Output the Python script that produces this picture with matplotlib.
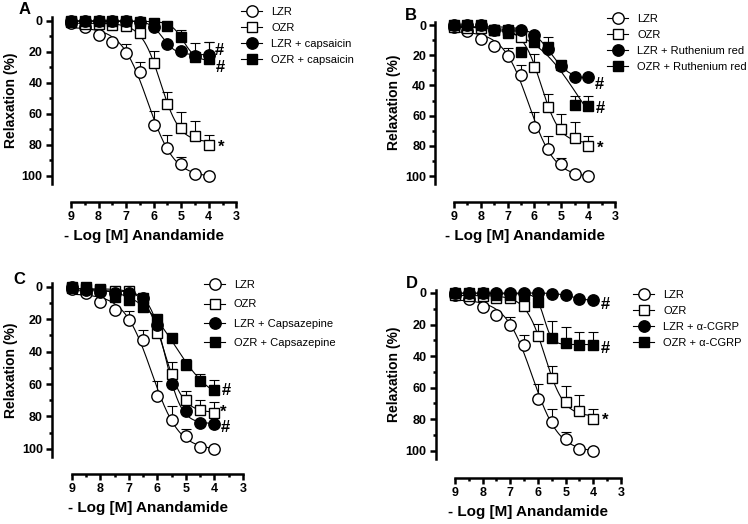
import numpy as np
import matplotlib
matplotlib.use("Agg")
import matplotlib.pyplot as plt

plt.rcParams['font.family'] = ['Liberation Sans', 'DejaVu Sans']

# -log [M] anandamide
logm = [9, 8.5, 8, 7.5, 7, 6.5, 6, 5.5, 5, 4.5, 4]

# controls (same in every panel)
lzr = [1.3, 4, 9, 14, 20.6, 33, 67.5, 82, 92.3, 98.7, 100]
lzr_err = [0, 0, 0, 0, 5.5, 6.3, 9.6, 8.3, 4.3, 0, 0]
ozr = [1, 2, 2, 3, 3.5, 8, 27.5, 54, 69, 74.6, 80]
ozr_err = [0, 0, 0, 0, 0, 0, 8.1, 8, 10.2, 10.2, 6.5]
ozr_c = [0.6, 1, 2, 2.7, 2.7, 6.8, 28.2, 54, 70, 76.3, 77.7]
ozr_c_err = [0, 0, 0, 0, 0, 0, 0, 7.6, 5.5, 6.6, 6.6]

# A: capsaicin
lzr_cap = [0, 0, 0, 0, 0, 1, 3.9, 15.3, 19.5, 22.5, 22]
lzr_cap_err = [0, 0, 0, 0, 0, 0, 0, 0, 0, 0, 8.5]
ozr_cap = [0, 0, 0, 0, 0, 1, 1.5, 3.2, 10.3, 23.3, 25]
ozr_cap_err = [0, 0, 0, 0, 0, 0, 0, 0, 4.3, 8.7, 11]

# B: ruthenium red
lzr_rr = [0, 0, 0, 3, 3, 3, 6.6, 16, 27, 34.5, 34.5]
lzr_rr_err = [0, 0, 0, 0, 0, 0, 0, 0, 0, 0, 0]
ozr_rr = [0, 0, 0, 3, 5.5, 18, 11.3, 14.5, 26.5, 53, 53.6]
ozr_rr_err = [0, 0, 0, 0, 0, 0, 0, 6.5, 0, 6.2, 6.8]

# C: capsazepine
lzr_cpz = [0, 2, 3, 4, 4, 7, 23.7, 60.2, 76.7, 84, 85]
lzr_cpz_err = [0, 0, 0, 0, 0, 0, 0, 0, 0, 0, 0]
ozr_cpz = [0, 0, 1.4, 6, 8, 12.4, 19.6, 31.5, 48, 58.4, 63.5]
ozr_cpz_err = [0, 0, 0, 0, 0, 0, 0, 0, 3.7, 4.8, 5.8]

# D: alpha-CGRP
lzr_cgrp = [0, 0, 0, 0, 0, 0, 0, 0.4, 1.5, 3.6, 4.6]
lzr_cgrp_err = [0, 0, 0, 0, 0, 0, 0, 0, 0, 0, 0]
ozr_cgrp = [0, 0, 0, 1, 1, 1, 5.7, 28.5, 31.5, 33.2, 33.2]
ozr_cgrp_err = [0, 0, 0, 0, 0, 0, 0, 10.7, 9.9, 8.5, 8.5]


def hill_fit(x, y):
    # four parameter logistic fit by grid search, bottom/top by least squares
    x = np.asarray(x, float)
    y = np.asarray(y, float)
    ps = np.arange(3.0, 9.5, 0.01)
    hs = np.arange(0.3, 5.0, 0.05)
    best = None
    for h in hs:
        s = 1.0 / (1.0 + 10.0 ** ((x[None, :] - ps[:, None]) * h))
        sm = s.mean(1, keepdims=True)
        ym = y.mean()
        var = ((s - sm) ** 2).sum(1)
        cov = ((s - sm) * (y - ym)).sum(1)
        a = np.where(var > 1e-12, cov / np.maximum(var, 1e-12), 0.0)
        b = ym - a * sm[:, 0]
        res = ((y[None, :] - (b[:, None] + a[:, None] * s)) ** 2).sum(1)
        i = np.argmin(res)
        if best is None or res[i] < best[0]:
            best = (res[i], ps[i], h, a[i], b[i])
    _, p, h, a, b = best
    xs = np.linspace(9, 4, 200)
    return xs, b + a / (1.0 + 10.0 ** ((xs - p) * h))


fig = plt.figure(figsize=(7.48, 5.24), dpi=100)
W, H = 748.0, 524.0

# pixel boxes: left, right, top, bottom, xaxis offset
boxes = {
    'A': (51.7, 236.3, 17.3, 183.6, 18.4),
    'B': (435.2, 615.0, 21.7, 183.6, 18.4),
    'C': (52.0, 243.0, 283.4, 456.8, 17.5),
    'D': (435.6, 621.0, 289.5, 458.6, 19.4),
}

panels = {
    'A': [('LZR', lzr, lzr_err, 'o', False), ('OZR', ozr, ozr_err, 's', False),
          ('LZR + capsaicin', lzr_cap, lzr_cap_err, 'o', True),
          ('OZR + capsaicin', ozr_cap, ozr_cap_err, 's', True)],
    'B': [('LZR', lzr, lzr_err, 'o', False), ('OZR', ozr, ozr_err, 's', False),
          ('LZR + Ruthenium red', lzr_rr, lzr_rr_err, 'o', True),
          ('OZR + Ruthenium red', ozr_rr, ozr_rr_err, 's', True)],
    'C': [('LZR', lzr, lzr_err, 'o', False), ('OZR', ozr_c, ozr_c_err, 's', False),
          ('LZR + Capsazepine', lzr_cpz, lzr_cpz_err, 'o', True),
          ('OZR + Capsazepine', ozr_cpz, ozr_cpz_err, 's', True)],
    'D': [('LZR', lzr, lzr_err, 'o', False), ('OZR', ozr, ozr_err, 's', False),
          ('LZR + α-CGRP', lzr_cgrp, lzr_cgrp_err, 'o', True),
          ('OZR + α-CGRP', ozr_cgrp, ozr_cgrp_err, 's', True)],
}

# significance marks: (text, x, y)
marks = {
    'A': [('#', 3.62, 19.5), ('#', 3.58, 30), ('*', 3.56, 81.5)],
    'B': [('#', 3.6, 39.7), ('#', 3.55, 55), ('*', 3.55, 81.6)],
    'C': [('#', 3.6, 64), ('*', 3.7, 77.5), ('#', 3.62, 87)],
    'D': [('#', 3.55, 7.4), ('#', 3.55, 35), ('*', 3.58, 81)],
}

# legend: (left px, top px, row spacing)
legend_pos = {'A': (241, 7, 0.55), 'B': (607, 14, 0.55),
              'C': (204, 280, 0.85), 'D': (633, 290, 0.55)}
letter_pos = {'A': (19, 10), 'B': (405, 15), 'C': (13, 280), 'D': (406, 284)}

for key, (l, r, t, b, off) in boxes.items():
    ax = fig.add_axes([l / W, 1 - b / H, (r - l) / W, (b - t) / H])
    handles = []
    for label, y, err, mk, filled in panels[key]:
        x = np.array(logm)
        y = np.array(y, float)
        e = np.array(err, float)
        xs, ys = hill_fit(x, y)
        ax.plot(xs, ys, color='black', lw=0.8, zorder=2)
        sel = e > 0
        if sel.any():
            ax.errorbar(x[sel], y[sel], yerr=[e[sel], np.zeros(sel.sum())],
                        fmt='none', ecolor='black', elinewidth=0.8,
                        capsize=3.4, capthick=0.8, zorder=1)
        ms = 8.2 if mk == 'o' else 7.8
        fc = 'black' if filled else 'white'
        ax.plot(x, y, linestyle='none', marker=mk, ms=ms, mfc=fc, mec='black',
                mew=1.0, zorder=3, clip_on=False)
        h, = ax.plot([], [], color='black', lw=0.8, marker=mk, ms=ms,
                     mfc=fc, mec='black', mew=1.0)
        handles.append((h, label))

    ax.set_xlim(9.7, 3)
    ax.set_ylim(105, -2.2)
    for s in ['top', 'right']:
        ax.spines[s].set_visible(False)
    ax.spines['bottom'].set_position(('outward', off * 0.72))
    ax.spines['bottom'].set_bounds(9, 3)
    ax.spines['left'].set_linewidth(1.8)
    ax.spines['bottom'].set_linewidth(1.8)
    ax.set_xticks([9, 8, 7, 6, 5, 4, 3])
    ax.set_xticks([8.5, 7.5, 6.5, 5.5, 4.5, 3.5], minor=True)
    ax.set_yticks([0, 20, 40, 60, 80, 100])
    ax.set_yticks([10, 30, 50, 70, 90], minor=True)
    ax.tick_params(which='major', length=4.5, width=1.8, labelsize=9, pad=2)
    ax.tick_params(which='minor', length=2, width=1.8)
    for lab in ax.get_xticklabels() + ax.get_yticklabels():
        lab.set_fontweight('bold')
    ax.set_xlabel('- Log [M] Anandamide', fontsize=11, fontweight='bold', labelpad=4)
    ax.set_ylabel('Relaxation (%)', fontsize=10, fontweight='bold', labelpad=3)

    for txt, mx, my in marks[key]:
        ax.text(mx, my, txt, fontsize=12, fontweight='bold', ha='center',
                va='center', clip_on=False)

    lx, ly, sp = legend_pos[key]
    ax.legend([h for h, _ in handles], [lb for _, lb in handles],
              loc='upper left', bbox_to_anchor=(lx / W, 1 - ly / H),
              bbox_transform=fig.transFigure, frameon=False, fontsize=8,
              handlelength=1.9, handletextpad=0.8, borderpad=0,
              borderaxespad=0, labelspacing=sp, numpoints=1)

    px, py = letter_pos[key]
    fig.text(px / W, 1 - py / H, key, fontsize=12, fontweight='bold',
             ha='left', va='center')

fig.savefig('out.png', dpi=100)
